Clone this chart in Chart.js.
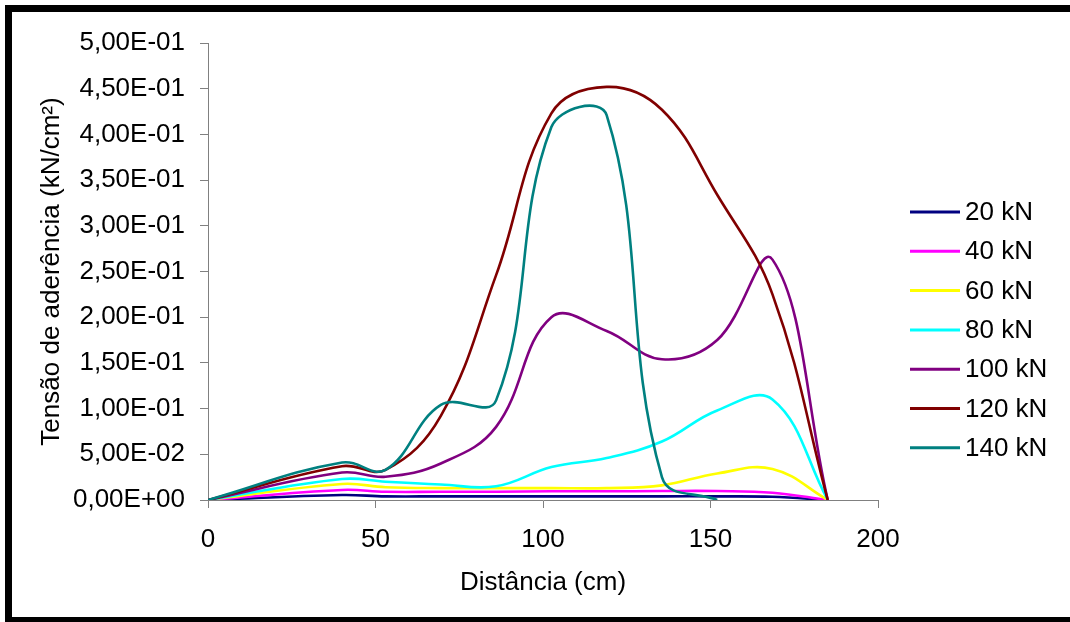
<!DOCTYPE html>
<html>
<head>
<meta charset="utf-8">
<script src="https://cdn.jsdelivr.net/npm/chart.js@4/dist/chart.umd.min.js"></script>
<style>
  body { margin: 0; background: #fff; }
  canvas { display: block; }
</style>
</head>
<body>
<canvas id="chart" width="1070" height="622"></canvas>
<script>
// Distances along the bar (cm)
const distances = [0, 40, 53, 69.5, 86, 102.5, 119, 135.5, 152, 168.5, 185];

// Bond stress (kN/cm²) per load level
const load20 = [0, 0.0055, 0.004, 0.004, 0.004, 0.004, 0.004, 0.004, 0.004, 0.0035, 0];
const load40 = [0, 0.011, 0.009, 0.009, 0.009, 0.0095, 0.0095, 0.0098, 0.0098, 0.008, 0];
const load60 = [0, 0.0175, 0.014, 0.013, 0.013, 0.013, 0.013, 0.016, 0.029, 0.034, 0];
const load80 = [0, 0.023, 0.020, 0.017, 0.015, 0.036, 0.046, 0.064, 0.098, 0.110, 0];
const load100 = [0, 0.030, 0.0255, 0.040, 0.080, 0.200, 0.185, 0.154, 0.175, 0.263, 0];
const load120 = [0, 0.037, 0.033, 0.092, 0.246, 0.423, 0.452, 0.427, 0.334, 0.225, 0];
const load140 = [0, 0.041, 0.033, 0.104, 0.109, 0.408, 0.421, 0.025, 0];

const seriesLabels = ['20 kN', '40 kN', '60 kN', '80 kN', '100 kN', '120 kN', '140 kN'];
const seriesValues = [load20, load40, load60, load80, load100, load120, load140];
const seriesColors = ['#000080', '#ff00ff', '#ffff00', '#00ffff', '#800080', '#800000', '#008080'];

const xTicks = [0, 50, 100, 150, 200];
const yMax = 0.5;
const yStep = 0.05;

const FONT = '"Liberation Sans", Arial, sans-serif';
const FONT_SIZE = 26;

// Excel style: 5,00E-01
function sciLabel(v) {
    if (Math.abs(v) < 1e-12) return '0,00E+00';
    const parts = v.toExponential(2).split('e');
    const exp = parseInt(parts[1], 10);
    const sign = exp < 0 ? '-' : '+';
    const expStr = String(Math.abs(exp)).padStart(2, '0');
    return parts[0].replace('.', ',') + 'E' + sign + expStr;
}

const datasets = seriesValues.map((vals, i) => ({
    label: seriesLabels[i],
    data: vals.map((v, k) => ({ x: distances[k], y: v })),
    borderColor: seriesColors[i],
    backgroundColor: seriesColors[i],
    borderWidth: 2.6,
    pointRadius: 0,
    showLine: true,
    tension: 0.4,
    fill: false,
    order: seriesValues.length - 1 - i
}));

// white page, black frame and the legend on the right
const framePlugin = {
    id: 'frame',
    beforeDraw(chart) {
        const ctx = chart.ctx;
        ctx.save();
        ctx.fillStyle = '#fff';
        ctx.fillRect(0, 0, chart.width, chart.height);
        ctx.restore();
    },
    afterDraw(chart) {
        const ctx = chart.ctx;
        ctx.save();
        ctx.fillStyle = '#000';
        ctx.fillRect(5, 5, 7, 612);
        ctx.fillRect(5, 5, chart.width - 5, 7);
        ctx.fillRect(5, 617, chart.width - 5, 5);

        ctx.font = FONT_SIZE + 'px ' + FONT;
        ctx.textBaseline = 'middle';
        ctx.textAlign = 'left';
        seriesLabels.forEach((lab, i) => {
            const y = 212 + i * 39.3;
            ctx.strokeStyle = seriesColors[i];
            ctx.lineWidth = 3;
            ctx.beginPath();
            ctx.moveTo(910, y);
            ctx.lineTo(960, y);
            ctx.stroke();
            ctx.fillStyle = '#000';
            ctx.fillText(lab, 965, y + 1);
        });
        ctx.restore();
    }
};

new Chart(document.getElementById('chart'), {
    type: 'scatter',
    data: { datasets },
    plugins: [framePlugin],
    options: {
        responsive: false,
        animation: false,
        devicePixelRatio: 1,
        layout: { padding: { left: 0, right: 192, top: 43, bottom: 0 } },
        plugins: {
            legend: { display: false },
            tooltip: { enabled: false }
        },
        scales: {
            x: {
                type: 'linear',
                min: 0,
                max: 200,
                afterFit(scale) { scale.height = 122; },
                afterBuildTicks(scale) { scale.ticks = xTicks.map(v => ({ value: v })); },
                ticks: {
                    color: '#000',
                    font: { family: FONT, size: FONT_SIZE },
                    padding: 16,
                    maxRotation: 0
                },
                grid: { display: true, drawOnChartArea: false, drawTicks: true, tickLength: 8, color: '#808080' },
                border: { display: true, color: '#808080', width: 1 },
                title: {
                    display: true,
                    text: 'Distância (cm)',
                    color: '#000',
                    font: { family: FONT, size: FONT_SIZE },
                    padding: { top: 0, bottom: 24 }
                }
            },
            y: {
                type: 'linear',
                min: 0,
                max: yMax,
                afterFit(scale) { scale.width = 208; },
                ticks: {
                    stepSize: yStep,
                    color: '#000',
                    font: { family: FONT, size: FONT_SIZE },
                    padding: 15,
                    callback: v => sciLabel(v)
                },
                grid: { display: true, drawOnChartArea: false, drawTicks: true, tickLength: 8, color: '#808080' },
                border: { display: true, color: '#808080', width: 1 },
                title: {
                    display: true,
                    text: 'Tensão de aderência (kN/cm²)',
                    color: '#000',
                    font: { family: FONT, size: FONT_SIZE },
                    padding: { top: 36, bottom: 0 }
                }
            }
        }
    }
});
</script>
</body>
</html>
